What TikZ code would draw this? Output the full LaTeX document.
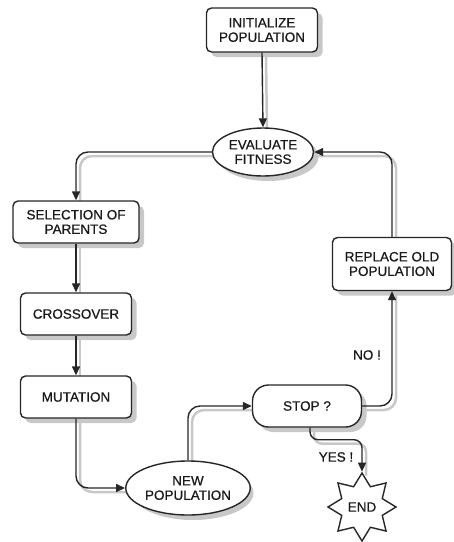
\documentclass[tikz,border=0pt]{standalone}
\usepackage{fontspec}
\setmainfont{Liberation Sans}[FakeBold=0.6]
\usetikzlibrary{shapes.geometric,arrows.meta,backgrounds}
\definecolor{shadowgray}{RGB}{200,200,200}
\begin{document}
\begin{tikzpicture}[x=1pt,y=1pt,
  line width=1.4pt,
  every node/.style={font=\fontsize{13.5}{14.5}\selectfont, align=center, text=black!90, inner sep=1pt},
  boxnode/.style={draw=black!85, rounded corners=5pt, fill=white},
  ovalnode/.style={draw=black!85, ellipse, fill=white},
  conn/.style={draw=black!85, rounded corners=12pt, -{Triangle[length=9pt,width=8pt]}},
  boxshadow/.style={fill=shadowgray, draw=none, rounded corners=5pt},
  ovalshadow/.style={fill=shadowgray, draw=none, ellipse},
  connshadow/.style={draw=shadowgray, line width=2.5pt, rounded corners=12pt},
  lbl/.style={font=\fontsize{13.5}{14.5}\selectfont}
]
\useasboundingbox (0,0) rectangle (454,-542);

% node shadows (drawn first, beneath)
\node[boxshadow, minimum width=111pt, minimum height=44pt] (init-s) at (267,-35) {};
\node[ovalshadow, minimum width=101pt, minimum height=48pt] (eval-s) at (268,-157) {};
\node[boxshadow, minimum width=126pt, minimum height=42pt] (sel-s) at (81,-227) {};
\node[boxshadow, minimum width=111pt, minimum height=42pt] (cross-s) at (81,-319) {};
\node[boxshadow, minimum width=111pt, minimum height=42pt] (mut-s) at (81,-402) {};
\node[ovalshadow, minimum width=121pt, minimum height=54pt] (newpop-s) at (193,-493) {};
\node[boxshadow, rounded corners=16pt, minimum width=109pt, minimum height=42pt] (stop-s) at (312,-411) {};
\node[boxshadow, minimum width=119pt, minimum height=53pt] (repl-s) at (397,-269) {};

\node[boxnode, minimum width=111pt, minimum height=44pt] (init) at (262,-30) {INITIALIZE\\POPULATION};
\node[ovalnode, minimum width=101pt, minimum height=48pt] (eval) at (263,-152) {EVALUATE\\FITNESS};
\node[boxnode, minimum width=126pt, minimum height=42pt] (sel) at (76,-222) {SELECTION OF\\PARENTS};
\node[boxnode, minimum width=111pt, minimum height=42pt] (cross) at (76,-314) {CROSSOVER};
\node[boxnode, minimum width=111pt, minimum height=42pt] (mut) at (76,-397) {MUTATION};
\node[ovalnode, minimum width=121pt, minimum height=54pt] (newpop) at (188,-488) {NEW\\POPULATION};
\node[boxnode, rounded corners=16pt, minimum width=109pt, minimum height=42pt] (stop) at (307,-406) {STOP ?};
\node[boxnode, minimum width=119pt, minimum height=53pt] (repl) at (392,-264) {REPLACE OLD\\POPULATION};
\node[draw=black!85, star, star points=8, star point ratio=1.55, minimum size=68pt, fill=white, inner sep=0pt] (end) at (362,-507) {END};

\draw[conn] (init.south) -- (eval.north);
\draw[conn] (eval.west) -| (sel.north);
\draw[conn] (sel.south) -- (cross.north);
\draw[conn] (cross.south) -- (mut.north);
\draw[conn] (mut.south) |- (newpop.west);
\draw[conn] (newpop.north) |- (stop.west);
\draw[conn] (stop.east) -| (repl.south);
\draw[conn] (repl.north) |- (eval.east);
\draw[conn, rounded corners=8pt] ([xshift=3pt]stop.south) -- ++(0,-12) -| (end.north);

\node[lbl] (no) at (367,-355) {NO !};
\node[lbl] (yes) at (336,-457) {YES !};

\begin{pgfonlayer}{background}
  \draw[connshadow] ([shift={(4pt,-4pt)}]init.south) -- ([shift={(4pt,-4pt)}]eval.north);
  \draw[connshadow] ([shift={(4pt,-4pt)}]eval.west) -| ([shift={(4pt,-4pt)}]sel.north);
  \draw[connshadow] ([shift={(4pt,-4pt)}]sel.south) -- ([shift={(4pt,-4pt)}]cross.north);
  \draw[connshadow] ([shift={(4pt,-4pt)}]cross.south) -- ([shift={(4pt,-4pt)}]mut.north);
  \draw[connshadow] ([shift={(4pt,-4pt)}]mut.south) |- ([shift={(4pt,-4pt)}]newpop.west);
  \draw[connshadow] ([shift={(4pt,-4pt)}]newpop.north) |- ([shift={(4pt,-4pt)}]stop.west);
  \draw[connshadow] ([shift={(4pt,-4pt)}]stop.east) -| ([shift={(4pt,-4pt)}]repl.south);
  \draw[connshadow] ([shift={(4pt,-4pt)}]repl.north) |- ([shift={(4pt,-4pt)}]eval.east);
  \draw[connshadow, rounded corners=8pt] ([shift={(7pt,-4pt)}]stop.south) -- ++(0,-12) -| ([shift={(4pt,-4pt)}]end.north);
\end{pgfonlayer}
\end{tikzpicture}
\end{document}
